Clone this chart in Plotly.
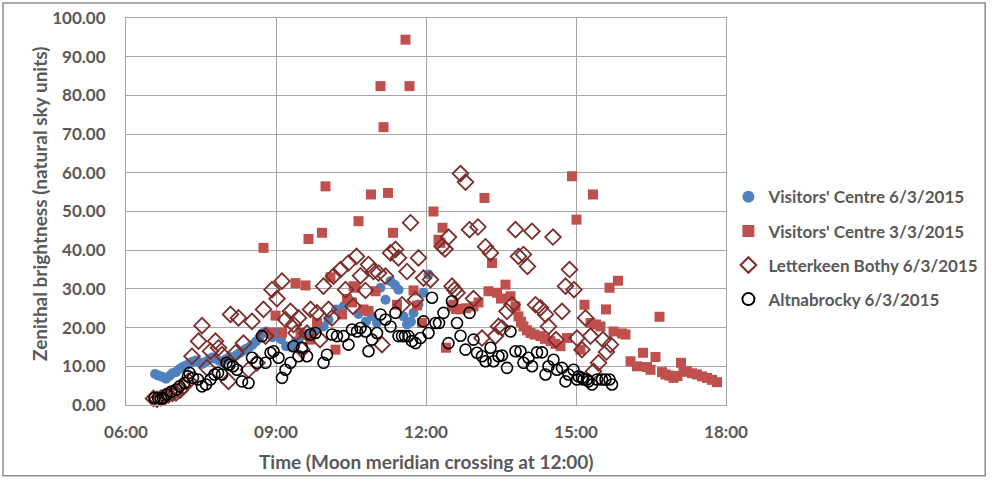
import plotly.graph_objects as go

# ---------------- data (time in decimal hours, brightness in natural sky units) ----------------
vc6_t = [6.58, 6.65, 6.72, 6.80, 6.87, 6.93, 7.00, 7.07, 7.13, 7.20, 7.27, 7.33, 7.40, 7.47, 7.53,
         7.60, 7.67, 7.73, 7.80, 7.87, 7.93, 8.00, 8.07, 8.13, 8.20, 8.27, 8.33, 8.40, 8.47, 8.53,
         8.60, 8.67, 8.73, 8.80, 8.87, 8.93, 9.00, 9.10, 9.20, 9.30, 9.40, 9.50, 9.65, 9.80, 9.95,
         10.05, 10.20, 10.35, 10.50, 10.65, 10.80, 10.92, 11.02, 11.09, 11.19, 11.29, 11.38, 11.45,
         11.55, 11.62, 11.70, 11.75, 11.85, 11.95, 12.05]
vc6_v = [8.0, 7.6, 7.3, 6.8, 7.5, 8.2, 8.5, 9.3, 9.8, 10.2, 10.8, 11.2, 11.5, 11.0, 10.6,
         11.2, 11.8, 12.3, 11.9, 11.4, 11.2, 11.8, 12.4, 12.0, 12.8, 13.4, 13.9, 14.5, 15.0, 15.6,
         16.4, 17.5, 18.6, 19.0, 18.2, 17.5, 18.7, 17.0, 15.2, 15.0, 16.5, 17.8, 18.5, 19.5, 20.3,
         22.0, 24.7, 25.5, 26.8, 23.5, 21.6, 23.0, 21.2, 30.3, 27.2, 32.0, 31.0, 29.8,
         22.9, 20.8, 21.5, 23.8, 26.0, 29.0, 33.7]

vc3_t = [8.75, 8.89, 8.99, 9.12, 9.39, 9.49, 9.59, 9.65, 9.69, 9.82, 9.92, 9.99, 10.09, 10.19,
         10.32, 10.42, 10.52, 10.55, 10.59, 10.65, 10.75, 10.85, 10.90, 10.99, 11.09, 11.15, 11.24,
         11.34, 11.42, 11.59, 11.67, 11.75, 11.82, 11.92, 12.15, 12.25, 12.29, 12.33, 12.40, 12.52,
         12.55, 12.60, 12.69, 12.80, 12.95, 13.05, 13.17, 13.25, 13.32, 13.42, 13.50, 13.59, 13.69,
         13.79, 13.85, 13.90, 13.95, 14.02, 14.09, 14.17, 14.29, 14.38, 14.49, 14.59, 14.69, 14.82,
         14.92, 15.01, 15.09, 15.17, 15.29, 15.34, 15.40, 15.49, 15.60, 15.67, 15.75, 15.84, 15.92,
         15.99, 16.09, 16.22, 16.34, 16.42, 16.49, 16.59, 16.67, 16.72, 16.79, 16.87, 16.95, 17.03,
         17.10, 17.15, 17.22, 17.32, 17.42, 17.52, 17.62, 17.72, 17.82]
vc3_v = [40.6, 18.7, 23.1, 18.7, 31.5, 18.6, 30.9, 42.9, 16.9, 21.2, 44.5, 56.5, 33.0, 14.3,
         23.4, 27.4, 26.5, 30.7, 30.3, 47.5, 24.7, 24.3, 54.4, 29.4, 82.4, 71.8, 54.8,
         44.5, 25.9, 94.4, 82.4, 29.6, 25.7, 21.2, 50.0, 42.7, 41.9, 45.8, 14.8, 25.5,
         25.9, 24.8, 24.7, 25.0, 25.5, 26.5, 53.5, 29.4, 36.7, 29.0, 27.5, 31.1, 28.1,
         25.5, 22.9, 21.5, 20.3, 19.3, 18.6, 18.2, 17.8, 17.1, 16.5, 15.8, 15.2, 17.3,
         59.1, 47.9, 14.3, 25.9, 21.2, 54.4, 20.8, 20.3, 24.7, 30.3, 19.0, 32.1, 18.5,
         18.2, 11.3, 10.0, 13.5, 9.8, 9.1, 12.4, 22.8, 8.5, 7.9, 7.6, 7.0, 7.5,
         10.9, 8.6, 8.7, 8.2, 7.9, 7.4, 7.0, 6.5, 5.9]

lb6_t = [6.55, 6.62, 6.70, 6.78, 6.85, 6.93, 7.00, 7.08, 7.15, 7.25, 7.32, 7.45, 7.52, 7.62,
         7.69, 7.79, 7.85, 7.92, 8.05, 8.09, 8.19, 8.25, 8.35, 8.45, 8.52, 8.62, 8.75, 8.79,
         8.92, 9.02, 9.12, 9.19, 9.29, 9.35, 9.40, 9.45, 9.52, 9.62, 9.69, 9.82, 9.88, 9.95,
         10.05, 10.12, 10.15, 10.29, 10.39, 10.45, 10.54, 10.61, 10.69, 10.79, 10.85, 10.95,
         11.05, 11.12, 11.19, 11.29, 11.39, 11.45, 11.52, 11.62, 11.69, 11.79, 11.85, 11.95,
         12.09, 12.32, 12.38, 12.45, 12.52, 12.57, 12.62, 12.69, 12.79, 12.87, 12.95, 13.04,
         13.12, 13.19, 13.29, 13.39, 13.45, 13.52, 13.62, 13.72, 13.79, 13.85, 13.95, 14.03,
         14.12, 14.19, 14.29, 14.39, 14.45, 14.54, 14.60, 14.72, 14.79, 14.87, 14.96, 15.02,
         15.12, 15.19, 15.29, 15.35, 15.45, 15.54, 15.61, 15.69]
lb6_v = [1.7, 1.5, 1.8, 2.2, 2.6, 3.0, 3.1, 3.8, 4.8, 6.2, 12.6, 16.5, 20.5, 9.6,
         13.9, 16.5, 14.8, 13.0, 6.1, 23.4, 13.5, 22.5, 16.0, 9.1, 21.6, 10.9, 24.7, 17.8,
         29.8, 27.5, 32.0, 22.1, 24.2, 20.8, 18.6, 22.5, 14.3, 18.6, 24.7, 23.8, 16.9, 30.7,
         24.7, 22.5, 33.3, 35.0, 29.8, 36.7, 25.5, 38.4, 33.4, 29.6, 36.3, 34.5,
         34.1, 15.6, 33.3, 39.3, 40.2, 38.0, 25.9, 34.5, 47.1, 27.2, 38.0, 32.8,
         32.4, 41.0, 40.3, 43.4, 30.7, 29.8, 29.0, 59.8, 57.6, 45.3, 27.5, 46.0,
         17.3, 40.9, 39.3, 17.8, 20.3, 19.9, 24.2, 25.9, 45.3, 38.4, 38.9, 35.8,
         44.9, 25.9, 25.1, 23.4, 20.3, 43.4, 16.9, 24.2, 30.7, 35.0, 29.8, 17.3,
         14.3, 22.5, 17.8, 8.7, 10.9, 16.9, 13.7, 15.6]

alt6_t = [6.57, 6.64, 6.70, 6.74, 6.81, 6.91, 7.01, 7.07, 7.17, 7.24, 7.27, 7.34, 7.44, 7.52,
          7.60, 7.69, 7.77, 7.84, 7.92, 8.01, 8.07, 8.14, 8.22, 8.32, 8.45, 8.52, 8.62, 8.72,
          8.79, 8.89, 8.95, 9.05, 9.12, 9.19, 9.29, 9.35, 9.45, 9.52, 9.62, 9.69, 9.79, 9.95,
          10.02, 10.12, 10.22, 10.35, 10.45, 10.52, 10.62, 10.69, 10.79, 10.85, 10.92, 11.02,
          11.09, 11.19, 11.29, 11.39, 11.45, 11.52, 11.58, 11.65, 11.72, 11.79, 11.89, 11.95,
          12.05, 12.12, 12.19, 12.26, 12.35, 12.45, 12.52, 12.62, 12.69, 12.79, 12.87, 12.95,
          13.02, 13.12, 13.19, 13.29, 13.35, 13.45, 13.52, 13.62, 13.69, 13.79, 13.89, 13.95,
          14.05, 14.12, 14.22, 14.32, 14.39, 14.45, 14.55, 14.62, 14.72, 14.79, 14.85, 14.95,
          15.02, 15.05, 15.12, 15.15, 15.22, 15.25, 15.32, 15.42, 15.52, 15.59, 15.67, 15.72]
alt6_v = [1.8, 1.8, 1.6, 1.8, 2.7, 3.5, 4.0, 4.8, 5.7, 7.4, 8.3, 7.0, 6.6, 4.8,
          5.3, 6.6, 7.9, 8.3, 7.9, 10.9, 10.4, 10.0, 9.1, 6.1, 5.7, 12.2, 10.9, 17.8,
          10.9, 13.5, 13.9, 12.2, 7.0, 9.1, 10.9, 15.2, 12.6, 14.8, 12.6, 18.2, 18.6, 10.9,
          13.0, 18.2, 17.8, 17.8, 15.6, 19.5, 19.0, 19.9, 19.0, 13.9, 16.9, 18.6,
          23.4, 22.1, 20.3, 23.8, 17.8, 17.8, 17.8, 17.8, 16.5, 16.0, 17.3, 21.6,
          18.6, 27.7, 21.2, 21.2, 23.8, 16.0, 26.8, 21.2, 17.9, 14.3, 23.8, 16.9,
          13.5, 12.6, 11.3, 14.8, 11.3, 12.6, 12.8, 9.6, 19.0, 13.9, 13.9, 10.9,
          12.2, 10.0, 13.6, 13.6, 7.9, 10.0, 11.7, 9.1, 9.6, 6.1, 7.9, 9.1,
          6.6, 7.4, 7.0, 6.6, 6.6, 6.1, 5.3, 6.6, 6.6, 6.6, 6.6, 5.3]

series_names = ["Visitors' Centre 6/3/2015", "Visitors' Centre 3/3/2015",
                "Letterkeen Bothy 6/3/2015", "Altnabrocky 6/3/2015"]
x_tick_vals = [6, 9, 12, 15, 18]
x_tick_text = ["06:00", "09:00", "12:00", "15:00", "18:00"]
x_title = "Time (Moon meridian crossing at 12:00)"
y_title = "Zenithal brightness (natural sky units)"

# ---------------- figure ----------------
FONT = "Lato"
TXT = "#595959"
GRID = "#A6A6A6"

fig = go.Figure()
fig.add_trace(go.Scatter(x=vc6_t, y=vc6_v, mode="markers", name=series_names[0],
                         legendgroup="a", cliponaxis=False,
                         marker=dict(symbol="circle", size=10, color="#4F81BD", line=dict(width=0))))
fig.add_trace(go.Scatter(x=vc3_t, y=vc3_v, mode="markers", name=series_names[1],
                         legendgroup="b", cliponaxis=False,
                         marker=dict(symbol="square", size=10, color="#C0504D", line=dict(width=0))))
fig.add_trace(go.Scatter(x=lb6_t, y=lb6_v, mode="markers", name=series_names[2],
                         legendgroup="c", cliponaxis=False,
                         marker=dict(symbol="diamond-open", size=12, color="#7B2E2C",
                                     line=dict(width=1.8, color="#7B2E2C"))))
fig.add_trace(go.Scatter(x=alt6_t, y=alt6_v, mode="markers", name=series_names[3],
                         legendgroup="d", cliponaxis=False,
                         marker=dict(symbol="circle-open", size=11, color="#000000",
                                     line=dict(width=1.6, color="#000000"))))

fig.update_layout(
    width=992, height=481,
    margin=dict(l=126, r=266, t=18, b=76, autoexpand=False),
    paper_bgcolor="white", plot_bgcolor="white",
    font=dict(family=FONT, color=TXT, size=17, weight="bold"),
    showlegend=True,
    legend=dict(x=1.004, xanchor="left", y=0.405, yanchor="middle",
                font=dict(family=FONT, size=17, color=TXT, weight="bold"),
                tracegroupgap=9, traceorder="grouped", itemsizing="constant",
                itemwidth=30, bgcolor="rgba(0,0,0,0)"),
    xaxis=dict(range=[6, 18], tickmode="array", tickvals=x_tick_vals, ticktext=x_tick_text,
               showgrid=True, gridcolor=GRID, gridwidth=1, zeroline=False,
               showline=True, linecolor=GRID, linewidth=1, mirror=True,
               ticks="", ticklabelstandoff=12, automargin=False,
               tickfont=dict(family=FONT, size=17, color=TXT, weight="bold")),
    yaxis=dict(range=[0, 100], dtick=10, tickformat=".2f",
               showgrid=True, gridcolor=GRID, gridwidth=1, zeroline=False,
               showline=True, linecolor=GRID, linewidth=1, mirror=True,
               ticks="", ticklabelstandoff=16, automargin=False,
               tickfont=dict(family=FONT, size=17, color=TXT, weight="bold")),
    annotations=[
        dict(text=x_title, xref="paper", yref="paper", x=0.5, y=-0.147,
             xanchor="center", yanchor="middle", showarrow=False,
             font=dict(family=FONT, size=19, color=TXT, weight="bold")),
        dict(text=y_title, xref="paper", yref="paper", x=-0.143, y=0.52,
             xanchor="center", yanchor="middle", showarrow=False, textangle=-90,
             font=dict(family=FONT, size=19, color=TXT, weight="bold")),
    ],
    shapes=[dict(type="rect", xref="paper", yref="paper",
                 x0=-0.205, x1=1.432, y0=-0.183, y1=1.039,
                 line=dict(color="#8C8C8C", width=1.5), fillcolor="rgba(0,0,0,0)", layer="below")],
)

fig.write_html("out.html", config={"displayModeBar": False},
               post_script="document.body.style.margin='0';document.body.style.overflow='hidden';")
